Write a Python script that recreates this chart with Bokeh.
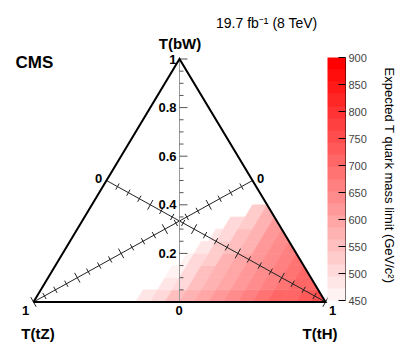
import math
from bokeh.plotting import figure
from bokeh.models import Range1d, LinearColorMapper, ColorBar, FixedTicker, Label, ColumnDataSource
from bokeh.embed import file_html
from bokeh.resources import INLINE

# ---------------- data ----------------
bw_row_low = [0.00, 0.05, 0.10, 0.15, 0.20, 0.25, 0.30, 0.35]     # BR(T->bW), lower edge of each row
bw_row_step = 0.05
th_row_start = [0.35, 0.40, 0.40, 0.425, 0.45, 0.475, 0.50, 0.55]  # first BR(T->tH) with a limit >= 450
th_step = 0.05
row_limits = [
    [475, 510, 545, 575, 600, 620, 640, 660, 680, 700, 715, 730, 750],
    [475, 515, 550, 580, 605, 625, 645, 665, 685, 705, 720],
    [470, 505, 540, 570, 595, 620, 640, 660, 680, 700],
    [465, 500, 535, 565, 590, 615, 635, 655, 680],
    [480, 520, 555, 585, 610, 635, 660],
    [475, 515, 550, 580, 610, 640],
    [495, 535, 570, 610],
    [520, 580],
]
z_low, z_high = 450, 900
n_bands = 20
cbar_ticks = [450, 500, 550, 600, 650, 700, 750, 800, 850, 900]
bw_tick_values = [0.2, 0.4, 0.6, 0.8, 1.0]
bw_tick_labels = ["0.2", "0.4", "0.6", "0.8", "1"]
cbar_title = "Expected T quark mass limit (GeV/c\u00b2)"

# ---------------- layout helpers (page pixels -> data) ----------------
W, H = 399, 352
SX, SY = 146.0, 243.0        # pixels per data unit
PX0, PY0 = 179.0, 301.5      # page position of data (0, 0)
def dx(px): return (px - PX0) / SX
def dy(py): return (PY0 - py) / SY

FONT = "Liberation Sans"

p = figure(width=W, height=H, output_backend="svg", toolbar_location=None,
           x_range=Range1d(dx(0), dx(W)), y_range=Range1d(dy(H), dy(0)),
           x_axis_type=None, y_axis_type=None, min_border=0,
           outline_line_color=None, background_fill_color="white", border_fill_color="white")

palette = ["#ff%02x%02x" % (round(255 * (1 - (i + 1) / n_bands)), round(255 * (1 - (i + 1) / n_bands)))
           for i in range(n_bands)]
mapper = LinearColorMapper(palette=palette, low=z_low, high=z_high)

# ---------------- ternary cells ----------------
EPS = 1e-9
def clip(poly):
    out = []
    n = len(poly)
    for i in range(n):
        P, Q = poly[i], poly[(i + 1) % n]
        fp, fq = P[0] + P[1] - 1, Q[0] + Q[1] - 1
        if fp <= EPS:
            out.append(P)
        if (fp < -EPS and fq > EPS) or (fp > EPS and fq < -EPS):
            t = fp / (fp - fq)
            out.append((P[0] + t * (Q[0] - P[0]), P[1] + t * (Q[1] - P[1])))
    return out

xs, ys, zs = [], [], []
for b0, h_start, vals in zip(bw_row_low, th_row_start, row_limits):
    b1 = b0 + bw_row_step
    h_top = 1.0 - b0
    edges = [h_start]
    k = math.floor(h_start / th_step + 1e-6) + 1
    while k * th_step < h_top - 1e-6:
        edges.append(k * th_step)
        k += 1
    edges.append(h_top)
    for h0, h1, z in zip(edges[:-1], edges[1:], vals):
        poly = clip([(b0, h0), (b0, h1), (b1, h1), (b1, h0)])
        xs.append([2 * h - 1 + b for b, h in poly])
        ys.append([b for b, h in poly])
        zs.append(z)

src = ColumnDataSource(dict(xs=xs, ys=ys, z=zs))
p.patches("xs", "ys", source=src,
          fill_color={"field": "z", "transform": mapper},
          line_color={"field": "z", "transform": mapper}, line_width=0.6)

# ---------------- diagonal axes (tH and tZ) ----------------
def diag_axis(start, end):
    (x0, y0), (x1, y1) = start, end
    p.segment(x0=[x0], y0=[y0], x1=[x1], y1=[y1], line_color="#222222", line_width=1)
    ddx, ddy = (x1 - x0) * SX, (y1 - y0) * SY
    L = math.hypot(ddx, ddy)
    nx, ny = -ddy / L, ddx / L
    tx0, ty0, tx1, ty1 = [], [], [], []
    for k in range(21):
        t = k / 20
        px, py = x0 + t * (x1 - x0), y0 + t * (y1 - y0)
        half = 5.5 if k % 4 == 0 else 3.5
        tx0.append(px - nx * half / SX); ty0.append(py - ny * half / SY)
        tx1.append(px + nx * half / SX); ty1.append(py + ny * half / SY)
    p.segment(x0=tx0, y0=ty0, x1=tx1, y1=ty1, line_color="#222222", line_width=1)

diag_axis((-0.5, 0.5), (1.0, 0.0))
diag_axis((0.5, 0.5), (-1.0, 0.0))

# ---------------- vertical bW axis ----------------
p.segment(x0=[0], y0=[0], x1=[0], y1=[1], line_color="#999999", line_width=1)
vt = [k / 20 for k in range(21)]
p.segment(x0=[0] * 21, y0=vt, x1=[(8 if k % 4 == 0 else 4) / SX for k in range(21)], y1=vt,
          line_color="#555555", line_width=1)

# ---------------- triangle ----------------
p.line(x=[-1, 1, 0, -1], y=[0, 0, 1, 0], line_color="black", line_width=2, line_join="miter")

# ---------------- texts ----------------
def lab(text, px, py, align="center", size=13, style="bold", baseline="middle", angle=0.0):
    p.add_layout(Label(x=dx(px), y=dy(py), text=text, text_align=align, text_baseline=baseline,
                       text_font=FONT, text_font_size=f"{size}px", text_font_style=style,
                       text_color="black", angle=angle))

lab("CMS", 15, 62, align="left", size=17, baseline="alphabetic")
lab("19.7 fb\u207b\u00b9 (8 TeV)", 317, 22, align="right", size=14, style="normal", baseline="alphabetic")
lab("T(bW)", 179.5, 43, size=15, baseline="alphabetic")
lab("T(tZ)", 37.5, 332.5, size=15, baseline="alphabetic")
lab("T(tH)", 319.5, 332.5, size=15, baseline="alphabetic")

for v, t in zip(bw_tick_values, bw_tick_labels):
    lab(t, 176, PY0 - v * SY, align="right", size=13)
lab("0", 178.5, 310, size=13)
lab("1", 25, 310, size=13)
lab("1", 332, 310, size=13)
lab("0", 98, 178, size=13)
lab("0", 260, 178, size=13)

# ---------------- colour bar ----------------
cb = ColorBar(color_mapper=mapper, ticker=FixedTicker(ticks=cbar_ticks),
              location=(327, H - 300), width=18, height=243, padding=0,
              major_label_text_font=FONT, major_label_text_font_size="11px",
              major_tick_line_color="black", major_tick_in=7, major_tick_out=0,
              minor_tick_line_color=None, bar_line_color=None, border_line_color=None,
              background_fill_color=None, label_standoff=3, title=None)
p.add_layout(cb, "center")
p.segment(x0=[dx(345)], y0=[dy(57)], x1=[dx(345)], y1=[dy(300)], line_color="black", line_width=1)
lab(cbar_title, 389, 175, size=13, style="normal", angle=-math.pi / 2)

open("out.html", "w").write(file_html(p, INLINE))
